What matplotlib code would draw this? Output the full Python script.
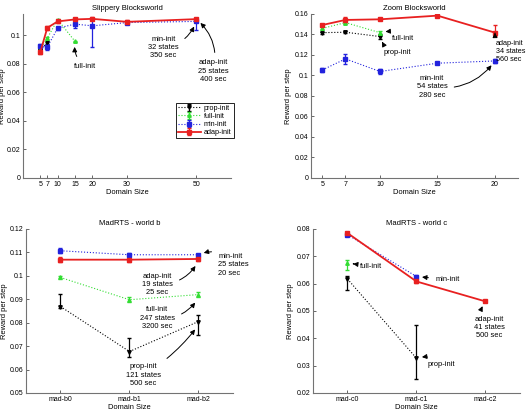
import numpy as np
import matplotlib
matplotlib.use("Agg")
import matplotlib.pyplot as plt
from matplotlib.ticker import FuncFormatter

plt.rcParams['font.family'] = ['Liberation Sans', 'DejaVu Sans']

# ---- Slippery Blocksworld ----
sb_x = [5, 7, 10, 15, 20, 30, 50]
sb_adap = [0.0884, 0.1053, 0.1098, 0.1112, 0.1116, 0.1095, 0.1114]
sb_adap_err = [[0.0015, 0.0015, 0.001, 0.001, 0.001, 0.001, 0.001],
               [0.0015, 0.0015, 0.001, 0.001, 0.001, 0.001, 0.001]]
sb_min = [0.0923, 0.0919, 0.1051, 0.1079, 0.1067, 0.1090, 0.1098]
sb_min_err = [[0.0015, 0.002, 0.001, 0.0025, 0.0145, 0.001, 0.006],
              [0.0015, 0.002, 0.001, 0.0025, 0.005, 0.001, 0.0015]]
sb_full_x = [5, 7, 10, 15]
sb_full = [0.0900, 0.0981, 0.1110, 0.0958]
sb_full_err = [0.001, 0.001, 0.0008, 0.0005]
sb_prop_x = [5, 7]
sb_prop = [0.0895, 0.0950]
sb_prop_err = [0.001, 0.001]
sb_ticks = [5, 7, 10, 15, 20, 30, 50]

# ---- Zoom Blocksworld ----
zb_x = [5, 7, 10, 15, 20]
zb_adap = [0.1493, 0.1542, 0.1548, 0.1584, 0.1418]
zb_adap_err = [[0.001, 0.0025, 0.001, 0.0005, 0.003],
               [0.001, 0.0025, 0.001, 0.0005, 0.0075]]
zb_min = [0.1055, 0.1162, 0.1039, 0.1120, 0.1142]
zb_min_err = [0.002, 0.005, 0.002, 0.001, 0.002]
zb_full_x = [5, 7, 10]
zb_full = [0.1460, 0.1516, 0.1418]
zb_full_err = [0.002, 0.0015, 0.002]
zb_prop_x = [5, 7, 10]
zb_prop = [0.1418, 0.1422, 0.1380]
zb_prop_err = [0.001, 0.001, 0.002]

# ---- MadRTS world b ----
wb_labels = ['mad-b0', 'mad-b1', 'mad-b2']
wb_min = [0.1107, 0.1090, 0.1090]
wb_min_err = [0.001, 0.0008, 0.0005]
wb_adap = [0.1069, 0.1069, 0.1072]
wb_adap_err = [0.001, 0.001, 0.001]
wb_full = [0.0993, 0.0898, 0.0920]
wb_full_err = [0.0006, 0.001, 0.001]
wb_prop = [0.0869, 0.0677, 0.0805]
wb_prop_err = [[0.0007, 0.0022, 0.0057], [0.0054, 0.0057, 0.0028]]

# ---- MadRTS world c ----
wc_labels = ['mad-c0', 'mad-c1', 'mad-c2']
wc_adap = [0.0785, 0.0608, 0.0535]
wc_adap_err = [0.0004, 0.0004, 0.0002]
wc_min = [0.0779, 0.0626]
wc_min_err = [0.0004, 0.0004]
wc_full = [0.0675]
wc_full_err = [[0.0026], [0.001]]
wc_prop = [0.0617, 0.0327]
wc_prop_err = [[0.0039, 0.0077], [0.0012, 0.0122]]

PROP = dict(color='k', ls=':', marker='v', ms=2.5, lw=0.8, capsize=1.5, elinewidth=0.9)
FULL = dict(color='#33dd33', ls=':', marker='^', ms=2.5, lw=0.8, capsize=1.5, elinewidth=0.9)
MIN = dict(color='#2222dd', ls=':', marker='s', ms=2.5, lw=0.8, capsize=1.5, elinewidth=0.9)
ADAP = dict(color='#e82020', ls='-', marker='s', ms=2.2, lw=1.3, capsize=1.5, elinewidth=0.9)

fmt = FuncFormatter(lambda v, p: '%g' % round(v, 4))


def style(ax, title, ypad=1.5):
    for s in ['top', 'right']:
        ax.spines[s].set_visible(False)
    for s in ['left', 'bottom']:
        ax.spines[s].set_color('0.45')
        ax.spines[s].set_linewidth(0.8)
    ax.tick_params(direction='in', length=2, width=0.6, color='0.3', labelsize=5, pad=2)
    ax.yaxis.set_major_formatter(fmt)
    ax.set_title(title, fontsize=5.5, pad=3)
    ax.set_xlabel('Domain Size', fontsize=5.4, labelpad=1)
    ax.set_ylabel('Reward per step', fontsize=5.4, labelpad=ypad)


def note(ax, text, xy, off, ha='center', rad=0.3, size=5.4):
    ax.annotate(text, xy=xy, xytext=off, textcoords='offset pixels',
                fontsize=size, ha=ha, va='center', linespacing=1.25,
                annotation_clip=False,
                arrowprops=dict(arrowstyle='-|>', connectionstyle='arc3,rad=%g' % rad,
                                color='k', lw=0.7, shrinkA=3, shrinkB=4,
                                mutation_scale=7))


fig = plt.figure(figsize=(5.28, 4.19), dpi=100)

# Slippery Blocksworld
ax1 = fig.add_axes([0.0436, 0.5752, 0.394, 0.3914])
ax1.errorbar(sb_prop_x, sb_prop, yerr=sb_prop_err, label='prop-init', **PROP)
ax1.errorbar(sb_full_x, sb_full, yerr=sb_full_err, label='full-init', **FULL)
ax1.errorbar(sb_x, sb_min, yerr=sb_min_err, label='min-init', **MIN)
ax1.errorbar(sb_x, sb_adap, yerr=sb_adap_err, label='adap-init', **ADAP)
ax1.set_xlim(0, 60)
ax1.set_ylim(0, 0.115)
ax1.set_xticks(sb_ticks)
ax1.set_yticks(np.arange(0, 0.101, 0.02))
style(ax1, 'Slippery Blocksworld', ypad=0.5)
leg = ax1.legend(loc='upper left', bbox_to_anchor=(0.716, 0.482), fontsize=5.2,
                 fancybox=False, edgecolor='k', framealpha=1, handlelength=3.2,
                 borderpad=0.3, labelspacing=0.15, handletextpad=0.4)
leg.get_frame().set_linewidth(0.6)
note(ax1, 'full-init', (sb_full_x[3], sb_full[3]), (10, -25), rad=-0.3)
note(ax1, 'min-init\n32 states\n350 sec', (sb_x[6], sb_min[6]), (-33, -26), rad=0.3)
note(ax1, 'adap-init\n25 states\n400 sec', (sb_x[6], sb_adap[6]), (17, -52), rad=0.3)

# Zoom Blocksworld
ax2 = fig.add_axes([0.589, 0.5752, 0.392, 0.3914])
ax2.errorbar(zb_prop_x, zb_prop, yerr=zb_prop_err, **PROP)
ax2.errorbar(zb_full_x, zb_full, yerr=zb_full_err, **FULL)
ax2.errorbar(zb_x, zb_min, yerr=zb_min_err, **MIN)
ax2.errorbar(zb_x, zb_adap, yerr=zb_adap_err, **ADAP)
ax2.set_xlim(4, 22)
ax2.set_ylim(0, 0.16)
ax2.set_xticks(zb_x)
ax2.set_yticks(np.arange(0, 0.161, 0.02))
style(ax2, 'Zoom Blocksworld')
note(ax2, 'full-init', (zb_full_x[2], zb_full[2]), (23, -6), rad=0.3)
note(ax2, 'prop-init', (zb_prop_x[2], zb_prop[2]), (17, -16), rad=-0.3)
note(ax2, 'adap-init\n34 states\n560 sec', (zb_x[4], zb_adap[4]), (1, -19), ha='left', rad=-0.4,
     size=5.2)
note(ax2, 'min-init\n54 states\n280 sec', (zb_x[4], zb_min[4]), (-63, -26), rad=0.3)

# MadRTS world b
ax3 = fig.add_axes([0.0492, 0.0621, 0.392, 0.3914])
pos = np.arange(1, len(wb_labels) + 1)
ax3.errorbar(pos, wb_prop, yerr=wb_prop_err, **PROP)
ax3.errorbar(pos, wb_full, yerr=wb_full_err, **FULL)
ax3.errorbar(pos, wb_min, yerr=wb_min_err, **MIN)
ax3.errorbar(pos, wb_adap, yerr=wb_adap_err, **ADAP)
ax3.set_xlim(0.5, 3.5)
ax3.set_ylim(0.05, 0.12)
ax3.set_xticks(pos)
ax3.set_xticklabels(wb_labels)
ax3.set_yticks(np.arange(0.05, 0.1201, 0.01))
style(ax3, 'MadRTS - world b', ypad=1)
note(ax3, 'min-init\n25 states\n20 sec', (pos[2], wb_min[2]), (20, -10), ha='left', rad=0.4)
note(ax3, 'adap-init\n19 states\n25 sec', (pos[2], wb_adap[2] - 0.001), (-41, -23), rad=0.3)
note(ax3, 'full-init\n247 states\n3200 sec', (pos[2], wb_full[2] - 0.0015), (-41, -20), rad=0.3)
note(ax3, 'prop-init\n121 states\n500 sec', (pos[2], wb_prop[2] - 0.0015), (-55, -50), rad=0.1)

# MadRTS world c
ax4 = fig.add_axes([0.5928, 0.0621, 0.392, 0.3914])
ax4.errorbar(pos[:2], wc_prop, yerr=wc_prop_err, **PROP)
ax4.errorbar(pos[:1], wc_full, yerr=wc_full_err, **FULL)
ax4.errorbar(pos[:2], wc_min, yerr=wc_min_err, **MIN)
ax4.errorbar(pos, wc_adap, yerr=wc_adap_err, **ADAP)
ax4.set_xlim(0.5, 3.5)
ax4.set_ylim(0.02, 0.08)
ax4.set_xticks(pos)
ax4.set_xticklabels(wc_labels)
ax4.set_yticks(np.arange(0.02, 0.0801, 0.01))
style(ax4, 'MadRTS - world c')
note(ax4, 'full-init', (pos[0], wc_full[0]), (24, -3), rad=0.0)
note(ax4, 'min-init', (pos[1], wc_min[1]), (31, -3), rad=0.0)
note(ax4, 'adap-init\n41 states\n500 sec', (pos[2], wc_adap[2]), (4, -26), rad=-0.5)
note(ax4, 'prop-init', (pos[1], wc_prop[1]), (25, -6), rad=0.3)

fig.savefig('out.png', dpi=100)
